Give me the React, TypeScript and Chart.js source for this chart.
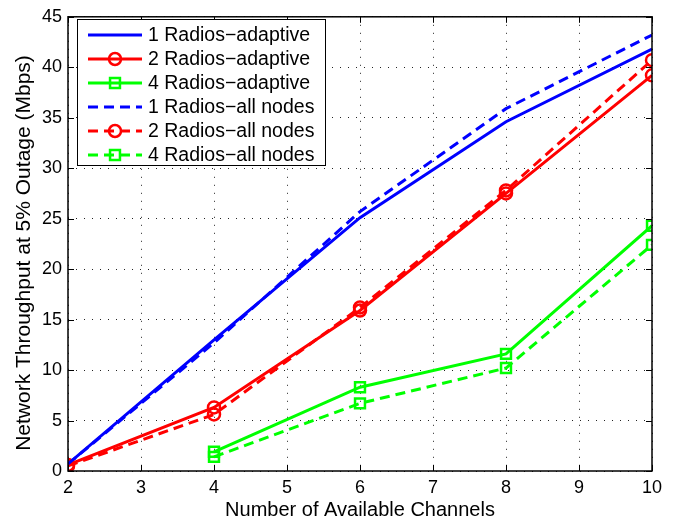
import { useEffect, useRef } from 'react';
import { Chart, registerables } from 'chart.js';

Chart.register(...registerables);

const channelsAll = [2, 4, 6, 8, 10];
const channels4 = [4, 6, 8, 10];
const radios1Adaptive = [0.7, 13.0, 25.1, 34.6, 41.8];
const radios2Adaptive = [0.6, 6.3, 15.9, 27.5, 39.2];
const radios4Adaptive = [1.9, 8.3, 11.6, 24.3];
const radios1AllNodes = [0.7, 12.7, 25.7, 35.9, 43.2];
const radios2AllNodes = [0.5, 5.6, 16.2, 27.8, 40.7];
const radios4AllNodes = [1.4, 6.7, 10.2, 22.4];
const seriesLabels = [
  '1 Radios\u2212adaptive',
  '2 Radios\u2212adaptive',
  '4 Radios\u2212adaptive',
  '1 Radios\u2212all nodes',
  '2 Radios\u2212all nodes',
  '4 Radios\u2212all nodes',
];
const xTitle = 'Number of Available Channels';
const yTitle = 'Network Throughput at 5% Outage (Mbps)';

const BLUE = '#0000ff';
const RED = '#ff0000';
const GREEN = '#00ff00';
const FONT = '"Liberation Sans", Arial, Helvetica, sans-serif';
const DASH = [10, 6];

const toPts = (xs: number[], ys: number[]) => xs.map((x, i) => ({ x, y: ys[i] }));

const frameLegendPlugin = {
  id: 'frameLegend',
  afterDraw(chart: any) {
    const ctx = chart.ctx;
    const { left, right, top, bottom } = chart.chartArea;
    const xs = chart.scales.x;
    const ys = chart.scales.y;
    ctx.save();
    // inward tick marks
    ctx.strokeStyle = '#000';
    ctx.lineWidth = 1;
    ctx.setLineDash([]);
    const tl = 6;
    ctx.beginPath();
    xs.ticks.forEach((t: any) => {
      const px = Math.round(xs.getPixelForValue(t.value)) + 0.5;
      ctx.moveTo(px, bottom);
      ctx.lineTo(px, bottom - tl);
      ctx.moveTo(px, top);
      ctx.lineTo(px, top + tl);
    });
    ys.ticks.forEach((t: any) => {
      const py = Math.round(ys.getPixelForValue(t.value)) + 0.5;
      ctx.moveTo(left, py);
      ctx.lineTo(left + tl, py);
      ctx.moveTo(right, py);
      ctx.lineTo(right - tl, py);
    });
    ctx.stroke();
    // frame
    ctx.lineWidth = 1.5;
    ctx.strokeRect(left, top, right - left, bottom - top);

    // y-axis title
    ctx.save();
    ctx.translate(24, 253);
    ctx.rotate(-Math.PI / 2);
    ctx.fillStyle = '#000';
    ctx.font = `21px ${FONT}`;
    ctx.textAlign = 'center';
    ctx.textBaseline = 'middle';
    ctx.fillText(yTitle, 0, 0);
    ctx.restore();

    // legend
    const bx = 77, by = 19, bw = 248, bh = 146;
    ctx.fillStyle = '#fff';
    ctx.fillRect(bx, by, bw, bh);
    ctx.lineWidth = 1;
    ctx.strokeStyle = '#000';
    ctx.strokeRect(bx + 0.5, by + 0.5, bw, bh);
    const rowStep = 24;
    const y0 = by + 16;
    chart.data.datasets.forEach((ds: any, i: number) => {
      const y = y0 + i * rowStep;
      ctx.strokeStyle = ds.borderColor;
      ctx.lineWidth = ds.borderWidth;
      ctx.setLineDash(ds.borderDash || []);
      ctx.beginPath();
      ctx.moveTo(88, y);
      ctx.lineTo(142, y);
      ctx.stroke();
      ctx.setLineDash([]);
      if (ds.pointRadius > 0) {
        ctx.lineWidth = ds.pointBorderWidth;
        ctx.strokeStyle = ds.pointBorderColor;
        ctx.beginPath();
        if (ds.pointStyle === 'rect') {
          const s = ds.pointRadius * Math.SQRT1_2;
          ctx.rect(115 - s, y - s, 2 * s, 2 * s);
        } else {
          ctx.arc(115, y, ds.pointRadius, 0, Math.PI * 2);
        }
        ctx.stroke();
      }
      ctx.fillStyle = '#000';
      ctx.font = `19.5px ${FONT}`;
      ctx.textBaseline = 'middle';
      ctx.textAlign = 'left';
      ctx.fillText(ds.label, 148, y + 1);
    });
    ctx.restore();
  },
};

export default function App() {
  const ref = useRef<HTMLCanvasElement | null>(null);
  useEffect(() => {
    document.body.style.margin = '0';
    if (!ref.current) return;
    const mk = (label: string, xs: number[], ys: number[], color: string, dashed: boolean, marker: string | null) => ({
      label,
      data: toPts(xs, ys),
      borderColor: color,
      backgroundColor: color,
      borderWidth: 3,
      borderDash: dashed ? DASH : [],
      pointStyle: marker || 'circle',
      pointRadius: marker === 'rect' ? 7 : marker ? 6 : 0,
      pointHoverRadius: 0,
      pointBorderWidth: 2.5,
      pointBorderColor: color,
      pointBackgroundColor: 'rgba(0,0,0,0)',
      tension: 0,
      fill: false,
    });
    const chart = new Chart(ref.current, {
      type: 'line',
      data: {
        datasets: [
          mk(seriesLabels[0], channelsAll, radios1Adaptive, BLUE, false, null),
          mk(seriesLabels[1], channelsAll, radios2Adaptive, RED, false, 'circle'),
          mk(seriesLabels[2], channels4, radios4Adaptive, GREEN, false, 'rect'),
          mk(seriesLabels[3], channelsAll, radios1AllNodes, BLUE, true, null),
          mk(seriesLabels[4], channelsAll, radios2AllNodes, RED, true, 'circle'),
          mk(seriesLabels[5], channels4, radios4AllNodes, GREEN, true, 'rect'),
        ] as any,
      },
      options: {
        animation: false,
        responsive: false,
        layout: { padding: { top: 10, right: 36, left: 0, bottom: 0 } },
        plugins: { legend: { display: false }, tooltip: { enabled: false } },
        scales: {
          x: {
            type: 'linear',
            min: 2,
            max: 10,
            ticks: { stepSize: 1, color: '#000', font: { family: FONT, size: 18 }, padding: 6, maxRotation: 0 },
            grid: { color: '#222', drawTicks: false, lineWidth: 1 },
            border: { display: false, dash: [1, 7] },
            title: { display: true, text: xTitle, color: '#000', font: { family: FONT, size: 20 }, padding: { top: 0, bottom: 1 } },
            afterFit: (s: any) => { s.height = 52; },
          },
          y: {
            type: 'linear',
            min: 0,
            max: 45,
            ticks: { stepSize: 5, color: '#000', font: { family: FONT, size: 18 }, padding: 6 },
            grid: { color: '#222', drawTicks: false, lineWidth: 1 },
            border: { display: false, dash: [1, 7] },
            title: { display: false, text: yTitle },
            afterFit: (s: any) => { s.width = 68; },
          },
        },
      },
      plugins: [frameLegendPlugin],
    });
    return () => chart.destroy();
  }, []);
  return <canvas ref={ref} width={688} height={523} style={{ display: 'block' }} />;
}
